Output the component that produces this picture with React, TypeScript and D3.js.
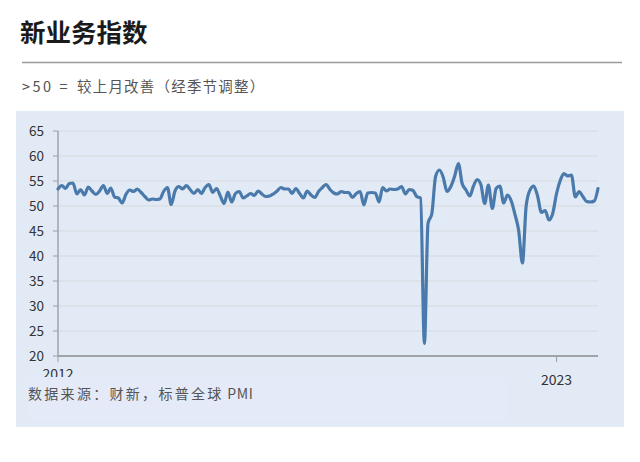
import React from "react";
import * as d3 from "d3";

const title = "新业务指数";
const subtitleLead = ">50 =";
const subtitleText = "较上月改善（经季节调整）";
const sourceText = "数据来源：财新，标普全球";
const sourceTail = " PMI";
const yTicks = [20, 25, 30, 35, 40, 45, 50, 55, 60, 65];
const xTickLabels = [
  { date: new Date(2012, 0, 1), label: "2012" },
  { date: new Date(2023, 0, 1), label: "2023" },
];
const startYear = 2012;
// Monthly new business index, Jan 2012 – Dec 2023
const values = [
  53.4, 54.1, 53.5, 54.5, 54.6, 52.4, 53.3, 52.2, 53.8, 53.0, 52.3, 53.0,
  54.1, 52.5, 53.6, 51.8, 51.6, 50.6, 52.3, 53.2, 52.9, 53.4, 52.7, 51.9,
  51.2, 51.4, 51.3, 51.4, 52.9, 53.7, 50.3, 53.0, 53.9, 53.4, 54.1, 53.3,
  52.5, 53.3, 52.5, 53.7, 54.3, 52.7, 53.5, 52.0, 50.5, 52.8, 50.8, 52.5,
  52.9, 51.6, 52.0, 52.5, 52.1, 53.0, 52.4, 51.9, 52.0, 52.4, 53.0, 53.7,
  53.4, 53.4, 52.5, 53.5, 52.5, 51.6, 53.0, 52.2, 51.7, 52.9, 53.7, 54.3,
  53.3, 52.6, 52.4, 52.9, 52.7, 52.7, 51.7, 52.5, 52.9, 50.2, 52.6, 52.7,
  52.6, 50.8, 53.7, 53.0, 53.4, 53.3, 53.4, 53.9, 52.4, 53.3, 53.1, 51.9,
  51.6, 22.5, 46.5, 48.5, 55.9, 57.2, 55.8, 52.9, 53.9, 55.9, 58.5, 54.5,
  53.2, 52.0, 53.9, 55.3, 54.3, 50.5, 54.2, 49.5, 53.5, 54.0, 50.6, 52.2,
  51.0, 48.2, 45.2, 38.6, 50.0, 53.2, 54.0, 52.0, 48.7, 49.1, 47.2, 48.5,
  52.5, 55.2, 56.5, 56.0, 56.2, 51.8, 52.9, 51.9, 50.9, 50.8, 51.0, 53.5,
];

const dates = values.map((_, i) => new Date(startYear, i, 1));
const series = values.map((v, i) => ({ date: dates[i], value: v }));

const W = 640;
const H = 462;
const plotLeft = 58;
const plotRight = 598;
const plotTop = 131;
const plotBottom = 356;

export default function App() {
  const x = d3
    .scaleTime()
    .domain([dates[0], dates[dates.length - 1]])
    .range([plotLeft, plotRight]);
  const y = d3.scaleLinear().domain([20, 65]).range([plotBottom, plotTop]);
  const line = d3
    .line<{ date: Date; value: number }>()
    .x((d) => x(d.date))
    .y((d) => y(d.value))
    .curve(d3.curveMonotoneX);

  const font = "'Noto Sans CJK SC', 'Noto Sans', sans-serif";

  return (
    <svg
      width={W}
      height={H}
      viewBox={`0 0 ${W} ${H}`}
      style={{ position: "absolute", left: 0, top: 0, fontFamily: font }}
    >
      <rect x={0} y={0} width={W} height={H} fill="#ffffff" />
      <text x={20} y={42} fontSize={25.5} fontWeight={700} fill="#1a1a1a">
        {title}
      </text>
      <line x1={22} x2={622} y1={62.5} y2={62.5} stroke="#9a9a9a" strokeWidth={1.5} />
      <text y={92} fontSize={14.5} fill="#555555" letterSpacing={1.2}>
        <tspan x={22} letterSpacing={2.5}>{subtitleLead}</tspan>
        <tspan x={77}>{subtitleText}</tspan>
      </text>

      <rect x={16} y={111} width={608} height={316} fill="#e2ebf5" />

      {yTicks.map((t) => (
        <g key={t}>
          {t !== 20 && (
            <line
              x1={plotLeft}
              x2={plotRight}
              y1={y(t)}
              y2={y(t)}
              stroke="#d6d9dc"
              strokeWidth={1}
            />
          )}
          <line x1={plotLeft - 5} x2={plotLeft} y1={y(t)} y2={y(t)} stroke="#9a9ea3" strokeWidth={1} />
          <text
            x={44}
            y={y(t)}
            dy="0.35em"
            textAnchor="end"
            fontSize={13.5}
            fill="#333333"
          >
            {t}
          </text>
        </g>
      ))}

      <line x1={plotLeft} x2={plotLeft} y1={plotTop} y2={plotBottom} stroke="#a0a4a8" strokeWidth={1.5} />
      <line x1={plotLeft} x2={plotRight} y1={plotBottom} y2={plotBottom} stroke="#a0a4a8" strokeWidth={2} />

      {xTickLabels.map((t, i) => (
        <g key={t.label}>
          <line
            x1={x(t.date)}
            x2={x(t.date)}
            y1={plotBottom}
            y2={plotBottom + 6}
            stroke="#9a9ea3"
            strokeWidth={1}
          />
          <text
            x={x(t.date)}
            y={i === 0 ? 379 : 385}
            textAnchor="middle"
            fontSize={14}
            fill="#333333"
          >
            {t.label}
          </text>
        </g>
      ))}

      <path
        d={line(series) || ""}
        fill="none"
        stroke="#4a7aab"
        strokeWidth={3.2}
        strokeLinejoin="round"
        strokeLinecap="round"
      />

      <rect x={27} y={377} width={480} height={43} fill="#e4eaf7" />
      <text x={28} y={399} fontSize={14} fill="#555555">
        <tspan letterSpacing={2.3}>{sourceText}</tspan>
        <tspan letterSpacing={0.6}>{sourceTail}</tspan>
      </text>
    </svg>
  );
}
